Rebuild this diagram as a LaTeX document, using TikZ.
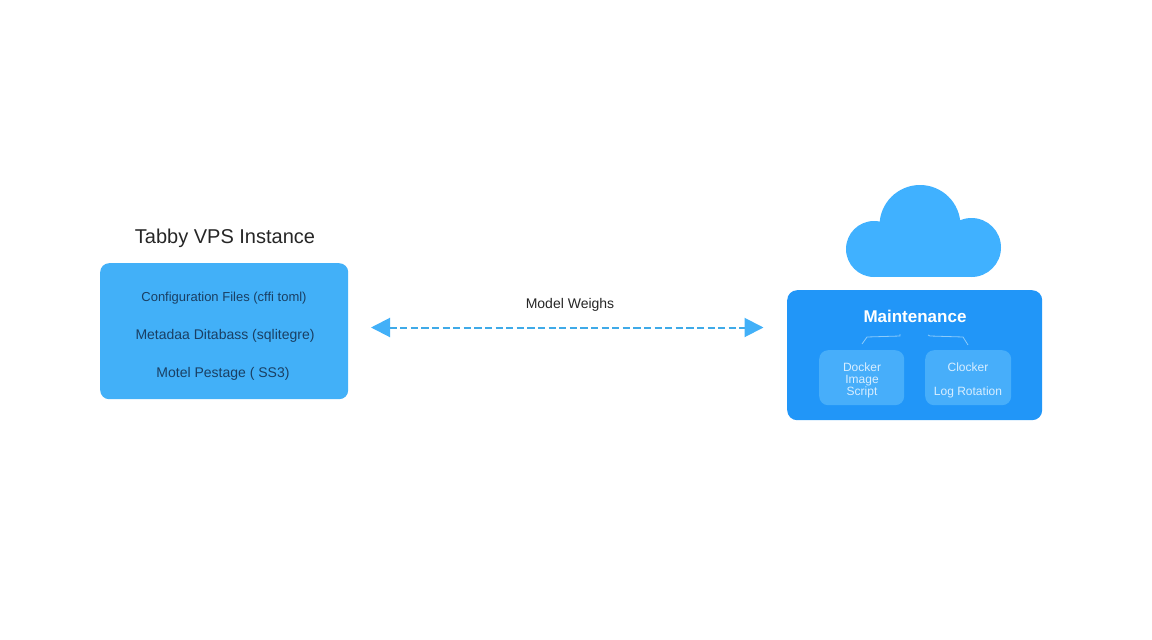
\documentclass[tikz,border=0pt]{standalone}
\usepackage{fontspec}
\setmainfont{Liberation Sans}
\usetikzlibrary{arrows.meta}
\definecolor{boxblue}{HTML}{42B0F8}
\definecolor{mainblue}{HTML}{2196F8}
\definecolor{innerblue}{HTML}{47AEFA}
\definecolor{cloudblue}{HTML}{40B1FF}
\definecolor{arrowblue}{HTML}{3FAAE8}
\definecolor{inktext}{HTML}{1A3F63}
\definecolor{softwhite}{HTML}{D8EEFF}
\definecolor{linkpale}{HTML}{8CCBFA}
\tikzset{
  x=1pt,y=-1pt,
  panel/.style={rounded corners=#1,inner sep=0pt,anchor=north west},
  boxlabel/.style={text=inktext,font=\fontsize{#1}{15}\selectfont,inner sep=0pt},
  innerlabel/.style={text=softwhite,font=\fontsize{12}{14}\selectfont,inner sep=0pt,align=center},
  plainlabel/.style={text=black!85,inner sep=0pt},
  linkline/.style={color=arrowblue,line width=2pt,dash pattern=on 7.2pt off 3.4pt,
    {Triangle[length=19pt,width=19pt,color=boxblue]}-{Triangle[length=19pt,width=19pt,color=boxblue]}},
  tick/.style={draw=linkpale,line width=0.8pt},
  cloudpart/.style={fill=cloudblue},
}
\begin{document}
\begin{tikzpicture}
\useasboundingbox (0,0) rectangle (1152,640);
% left panel
\node[panel=9pt,fill=boxblue,minimum width=248pt,minimum height=136pt] (vps) at (100,263) {};
\node[plainlabel,font=\fontsize{20}{24}\selectfont] (title) at (225,238) {Tabby VPS Instance};
\node[boxlabel=13] (cfg) at (224,298) {Configuration Files (cffi toml)};
\node[boxlabel=14] (meta) at (225,336) {Metadaa Ditabass (sqlitegre)};
\node[boxlabel=14] (store) at (223,374) {Motel Pestage ( SS3)};
% right panel
\node[panel=10pt,fill=mainblue,minimum width=255pt,minimum height=130pt] (maint) at (787,290) {};
\node[text=white,inner sep=0pt,font=\fontsize{17}{20}\selectfont\bfseries] (mlabel) at (915,316) {Maintenance};
\node[panel=9pt,fill=innerblue,minimum width=85pt,minimum height=55pt] (docker) at (819,350) {};
\node[panel=9pt,fill=innerblue,minimum width=86pt,minimum height=55pt] (clock) at (925,350) {};
\node[innerlabel] (dl1) at (862,367) {Docker};
\node[innerlabel] (dl2) at (862,380.5) {Image};
\node[innerlabel] (dl3) at (862,392.5) {Script};
\node[innerlabel] (cl1) at (968,367) {Clocker};
\node[innerlabel] (cl2) at (968,392) {Log Rotation};
% small brackets
\coordinate (bl) at (862,344);
\coordinate (br) at (968,345);
\draw[tick] (bl) -- (867,337) -- (900,336) -- (900,334);
\draw[tick] (br) -- (963,337) -- (930,336) -- (928,335);
% cloud
\fill[cloudpart] (874,249) circle[radius=28pt];
\fill[cloudpart] (971.5,247.5) circle[radius=29.5pt];
\fill[cloudpart] (920,225.5) circle[radius=40.5pt];
\fill[cloudpart] (874,225) rectangle (971.5,277);
% connector
\coordinate (la) at (371,327.5);
\coordinate (ra) at (763.5,327.5);
\draw[linkline] (la) -- (ra);
\node[plainlabel,font=\fontsize{14}{17}\selectfont] (wlabel) at (570,305) {Model Weighs};
\end{tikzpicture}
\end{document}
